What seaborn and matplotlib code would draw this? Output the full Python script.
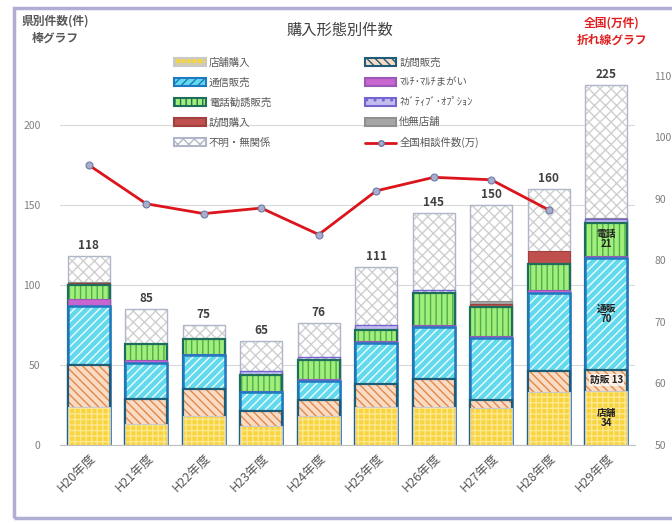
import numpy as np
import matplotlib
matplotlib.use("Agg")
import matplotlib.pyplot as plt
import matplotlib.patches as mpatches
from matplotlib.lines import Line2D
import seaborn as sns

# データ
years = ["H20年度", "H21年度", "H22年度", "H23年度", "H24年度",
         "H25年度", "H26年度", "H27年度", "H28年度", "H29年度"]
tenpo = [24, 13, 18, 12, 18, 24, 24, 23, 33, 34]          # 店舗購入
houmon_hanbai = [26, 16, 17, 9, 10, 14, 17, 5, 13, 13]   # 訪問販売
tsushin = [37, 22, 21, 12, 12, 26, 33, 39, 49, 70]       # 通信販売
multi = [4, 2, 1, 1, 1, 1, 1, 1, 2, 1]                   # マルチ
denwa = [9, 10, 9, 10, 12, 7, 20, 18, 16, 21]            # 電話勧誘販売
negative = [0, 0, 0, 2, 2, 3, 2, 0, 0, 2]                # ネガティブ・オプション
houmon_kounyu = [1, 0, 0, 0, 0, 0, 0, 2, 8, 0]           # 訪問購入
ta_mutenpo = [1, 0, 0, 0, 0, 0, 0, 2, 0, 1]              # 他無店舗
fumei = [16, 22, 9, 19, 21, 36, 48, 60, 39, 83]          # 不明・無関係
totals = [118, 85, 75, 65, 76, 111, 145, 150, 160, 225]
national = [95.5, 89.2, 87.6, 88.5, 84.2, 91.3, 93.5, 93.1, 88.2]  # 全国相談件数(万)

# 系列の見た目 (名前, 値, 面色, ハッチ, ハッチ色, 枠色, 枠太さ)
series = [
    ("店舗購入", tenpo, "#F8D43E", "+++", "#FCE890", "#C9C9C9", 0.8),
    ("訪問販売", houmon_hanbai, "#FADCC4", "\\\\\\\\", "#E2884C", "#1F5C78", 1.6),
    ("通信販売", tsushin, "#62D9EC", "////", "#EFFCFE", "#1F78C0", 1.8),
    ("ﾏﾙﾁ･ﾏﾙﾁまがい", multi, "#C965D0", None, "#C965D0", "#9B59B6", 0.8),
    ("電話勧誘販売", denwa, "#A2EE7A", "|||", "#4DB04F", "#1D6E5A", 1.6),
    ("ﾈｶﾞﾃｨﾌﾞ･ｵﾌﾟｼｮﾝ", negative, "#C3BCEF", "..", "#FFFFFF", "#7565D0", 1.0),
    ("訪問購入", houmon_kounyu, "#C0504D", None, "#C0504D", "#A04040", 0.8),
    ("他無店舗", ta_mutenpo, "#A6A6A6", None, "#A6A6A6", "#909090", 0.8),
    ("不明・無関係", fumei, "#FFFFFF", "xxx", "#CFCFCF", "#AEB6C8", 1.0),
]

sns.set_style("white")
plt.rcParams['font.family'] = ['Noto Sans CJK JP', 'DejaVu Sans']
plt.rcParams['hatch.linewidth'] = 1.0

fig = plt.figure(figsize=(6.72, 5.24), dpi=100)
ax = fig.add_axes([60 / 672, 79 / 524, 575 / 672, 400 / 524])

# 積み上げ棒: 累積値を上の系列から順に重ねて描く
cums = np.cumsum([s[1] for s in series], axis=0)
for k in range(len(series) - 1, -1, -1):
    name, vals, face, hatch, hcol, edge, lw = series[k]
    sns.barplot(x=years, y=cums[k], order=years, color=face, saturation=1,
                width=0.73, errorbar=None, ax=ax)
    for p, v in zip(ax.containers[-1], vals):
        p.set_hatch(hatch)
        p.set_edgecolor(hcol)
        p.set_linewidth(0)
        if v == 0:
            p.set_visible(False)
    sns.barplot(x=years, y=cums[k], order=years, color=edge, fill=False,
                width=0.73, errorbar=None, linewidth=lw, ax=ax)
    for p, v in zip(ax.containers[-1], vals):
        if v == 0:
            p.set_visible(False)

# 合計ラベル
ax.bar_label(ax.containers[1], labels=[str(t) for t in totals], padding=3,
             fontsize=8.5, color="#404040", fontweight="bold")

# H29年度の内訳ラベル
i29 = len(years) - 1
inner = [(0, "店舗\n34"), (1, "訪販 13"), (2, "通販\n70"), (4, "電話\n21")]
for k, txt in inner:
    lo = cums[k - 1][i29] if k > 0 else 0
    mid = (lo + cums[k][i29]) / 2
    bb = dict(boxstyle="square,pad=0.1", fc="white", ec="none", alpha=0.7) if k == 1 else None
    ax.text(i29, mid, txt, ha="center", va="center", fontsize=7, fontweight="bold",
            color="#202020", linespacing=1.0, bbox=bb)

ax.set_xlim(-0.5, len(years) - 0.5)
ax.set_ylim(0, 250)
ax.set_yticks([0, 50, 100, 150, 200])
ax.yaxis.grid(True, color="#D9D9D9", linewidth=0.8)
ax.set_axisbelow(True)
ax.set_xlabel("")
ax.set_ylabel("")
for s in ["top", "left", "right"]:
    ax.spines[s].set_visible(False)
ax.spines["bottom"].set_color("#BFBFBF")
ax.tick_params(axis="y", length=0, pad=14, labelsize=7.5, labelcolor="#7F7F7F")
ax.tick_params(axis="x", length=0, pad=4, labelsize=9, labelcolor="#595959")
plt.setp(ax.get_xticklabels(), rotation=45, ha="right", rotation_mode="anchor")

# 全国の折れ線 (右軸)
ax2 = ax.twinx()
ax2.set_position([60 / 672, 79 / 524, 575 / 672, 400 / 524])
sns.lineplot(x=list(range(len(national))), y=national, ax=ax2, color="#DC141B",
             linewidth=2.0, marker="o", markersize=5, markerfacecolor="#A8AECB",
             markeredgecolor="#6F7AA6", markeredgewidth=0.8)
ax2.set_ylim(50, 115)
ax2.set_yticks([50, 60, 70, 80, 90, 100, 110])
ax2.set_ylabel("")
for s in ax2.spines.values():
    s.set_visible(False)
ax2.tick_params(axis="y", length=0, pad=14, labelsize=7.5, labelcolor="#7F7F7F")
ax2.grid(False)

# 凡例
handles = []
for name, vals, face, hatch, hcol, edge, lw in series:
    handles.append(mpatches.Patch(facecolor=face, hatch=hatch, edgecolor=edge,
                                  linewidth=1.5, label=name))
line_h = Line2D([], [], color="#DC141B", linewidth=2.0, marker="o", markersize=4,
                markerfacecolor="#A8AECB", markeredgecolor="#6F7AA6",
                label="全国相談件数(万)")
order = [0, 2, 4, 6, 8, 1, 3, 5, 7]
leg_handles = [handles[i] for i in order] + [line_h]
fig.legend(handles=leg_handles, loc="upper left", bbox_to_anchor=(165 / 672, 1 - 48 / 524),
           ncol=2, frameon=False, fontsize=7.5, handlelength=3.0, handleheight=0.8,
           labelspacing=0.95, columnspacing=9.0, handletextpad=0.3,
           labelcolor="#595959")

# タイトルと軸の説明
fig.text(340 / 672, 1 - 30 / 524, "購入形態別件数", ha="center", va="center",
         fontsize=11, color="#404040")
fig.text(55 / 672, 1 - 30 / 524, "県別件数(件)\n棒グラフ", ha="center", va="center",
         fontsize=8.5, fontweight="bold", color="#595959", linespacing=1.4)
fig.text(612 / 672, 1 - 32 / 524, "全国(万件)\n折れ線グラフ", ha="center", va="center",
         fontsize=8.5, fontweight="bold", color="#E02020", linespacing=1.4)

# 外枠
fig.patches.append(mpatches.Rectangle((14 / 672, 6 / 524), 0.99, 1 - 14 / 524,
                                      transform=fig.transFigure, fill=False,
                                      edgecolor="#B0AED4", linewidth=2.5))

fig.savefig("out.png", dpi=100)
